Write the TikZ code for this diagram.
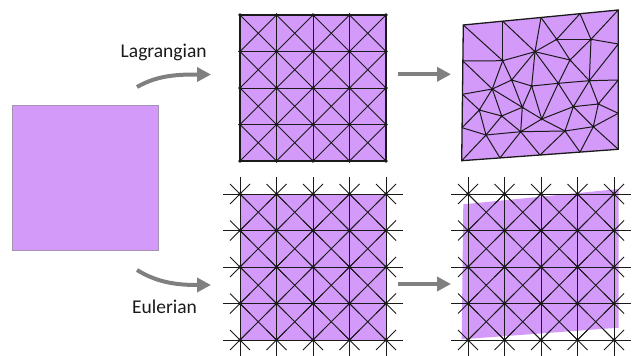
\documentclass[tikz,border=0pt]{standalone}
\usepackage{fontspec}
\setmainfont{Carlito}
\usepackage{tikz}
\usetikzlibrary{arrows.meta,calc,positioning}
\definecolor{ink}{HTML}{1A1A1A}
\definecolor{lilac}{HTML}{D49AFA}
\definecolor{rim}{HTML}{A493B0}
\definecolor{arrowgray}{HTML}{808080}

\tikzset{
  meshline/.style={draw=ink, line width=1pt},
  rimline/.style={draw=ink, line width=1.3pt},
  flow/.style={draw=arrowgray, line width=4pt, -{Triangle[length=14pt,width=14pt]}},
  tag/.style={font=\fontsize{19.5}{22}\selectfont, text=ink, inner sep=0pt},
  lagrid/.pic={
    \fill[lilac] (0,0) rectangle (146,146);
    \foreach \i in {0,...,3}
      \foreach \j in {0,...,3} {
        \draw[meshline] (36.5*\i,36.5*\j) -- ++(36.5,36.5);
        \draw[meshline] (36.5*\i+36.5,36.5*\j) -- ++(-36.5,36.5);
      }
    \foreach \k in {1,2,3} {
      \draw[meshline] (36.5*\k,0) -- (36.5*\k,146);
      \draw[meshline] (0,36.5*\k) -- (146,36.5*\k);
    }
    \draw[rimline] (0,0) rectangle (146,146);
    \foreach \i in {0,...,4}
      \foreach \j in {0,...,4}
        \fill[ink] (36.5*\i,36.5*\j) circle (1.8pt);
  },
  eulgrid/.pic={
    \foreach \i in {0,...,3}
      \foreach \j in {0,...,3} {
        \draw[meshline] (36.5*\i,36.5*\j) -- ++(36.5,36.5);
        \draw[meshline] (36.5*\i+36.5,36.5*\j) -- ++(-36.5,36.5);
      }
    \foreach \k in {0,...,4} {
      \draw[meshline] (36.5*\k,-17) -- (36.5*\k,163);
      \draw[meshline] (-17,36.5*\k) -- (163,36.5*\k);
    }
    % short diagonal stubs round every grid point
    \foreach \i in {0,...,4}
      \foreach \j in {0,...,4} {
        \draw[meshline] (36.5*\i-10,36.5*\j-10) -- ++(20,20);
        \draw[meshline] (36.5*\i-10,36.5*\j+10) -- ++(20,-20);
        \fill[ink] (36.5*\i,36.5*\j) circle (1.8pt);
      }
  }
}

\begin{document}
\begin{tikzpicture}[x=1pt,y=-1pt]
  \useasboundingbox (0,0) rectangle (632,356);

  % undeformed body
  \node[draw=rim, line width=1pt, fill=lilac, minimum width=146pt, minimum height=145pt,
        inner sep=0pt, anchor=north west] (body) at (12,105) {};

  % Lagrangian row
  \pic at (240,15) {lagrid};
  \coordinate (t1) at (463.3,25);   \coordinate (t2) at (502.7,21.2);
  \coordinate (t3) at (541,17.5);   \coordinate (t4) at (580,13.7);
  \coordinate (t5) at (618.3,10);
  \coordinate (r2) at (618.3,44);   \coordinate (r3) at (618.3,80);
  \coordinate (r4) at (618.3,113.3);
  \coordinate (b5) at (618.3,149.3); \coordinate (b4) at (580,152.1);
  \coordinate (b3) at (540,155);     \coordinate (b2) at (500,157.9);
  \coordinate (b1) at (461.7,160.7);
  \coordinate (l4) at (462.1,127.7); \coordinate (l3) at (462.5,94.3);
  \coordinate (l2) at (462.9,61);
  \foreach \n/\p in {m1/{535,51.7}, m2/{556.7,39.3}, m3/{591,39.3}, m4/{502.7,60.7},
      m5/{570,60}, m6/{511.7,80}, m7/{492.3,89}, m8/{531.7,86}, m9/{558.3,83.3},
      m10/{589.3,80.7}, m11/{479.3,110}, m12/{522.3,107.3}, m13/{501.7,116},
      m14/{541.7,119}, m15/{573.3,106.7}, m16/{598.3,104}, m17/{486,135},
      m18/{520.7,131.7}, m19/{565,131}, m20/{593.3,126.7}}
    \coordinate (\n) at (\p);
  \fill[lilac] (t1) -- (t5) -- (b5) -- (b1) -- cycle;
  \foreach \u/\v in {t1/m4, t2/m4, l2/m4, t2/m1, t3/m1, m4/m1, t3/m2, m2/m1, t4/m2,
      t4/m3, t5/m3, m2/m3, m3/r2, m1/m5, m2/m5, m3/m5, m3/m10, r2/m10, m5/m10,
      m5/m9, m1/m9, m1/m8, m1/m6, m4/m6, m4/m7, m6/m7, m6/m8, m8/m9, m9/m10,
      r3/m10, l2/m7, l3/m7, m7/m11, l3/m11, l4/m11, m7/m13, m11/m13, m6/m12,
      m7/m12, m8/m12, m8/m14, m9/m14, m9/m15, m10/m15, m10/m16, r3/m16, r4/m16,
      m15/m16, m12/m13, m12/m14, m13/m17, m11/m17, l4/m17, b1/m17, m17/b2,
      m17/m18, m13/m18, m12/m18, m14/m18, m18/b2, m18/b3, m14/m19, m18/m19,
      m15/m19, m14/m15, m19/b3, m19/b4, m19/m20, m15/m20, m16/m20, r4/m20,
      b5/m20, m20/b4}
    \draw[meshline] (\u) -- (\v);
  \draw[rimline] (t1) -- (t5) -- (b5) -- (b1) -- cycle;
  \foreach \n in {1,...,20}
    \fill[ink] (m\n) circle (1.5pt);

  % Eulerian row
  \fill[lilac] (240,194) rectangle (386,340);
  \pic at (240,194) {eulgrid};
  \fill[lilac] (463.3,204.3) -- (618.7,189) -- (618.7,327.7) -- (461.7,339.3) -- cycle;
  \pic at (468,194) {eulgrid};

  % arrows and labels
  \coordinate (lagfrom) at (137,87);
  \coordinate (lagto) at (211,74.5);
  \draw[flow] (lagfrom) .. controls (158,75) and (178,74.5) .. (lagto);
  \node[tag, anchor=base] (lagname) at (163.7,57.3) {Lagrangian};

  \coordinate (eulfrom) at (137,270);
  \coordinate (eulto) at (211,285);
  \draw[flow] (eulfrom) .. controls (158,283) and (178,285) .. (eulto);
  \node[tag, anchor=base] (eulname) at (164.5,313.3) {Eulerian};

  \coordinate (movetopA) at (398,74.3);
  \coordinate (movetopB) at (451,74.3);
  \draw[flow] (movetopA) -- (movetopB);
  \coordinate (movebotA) at (398,284);
  \coordinate (movebotB) at (451,284);
  \draw[flow] (movebotA) -- (movebotB);
\end{tikzpicture}
\end{document}
